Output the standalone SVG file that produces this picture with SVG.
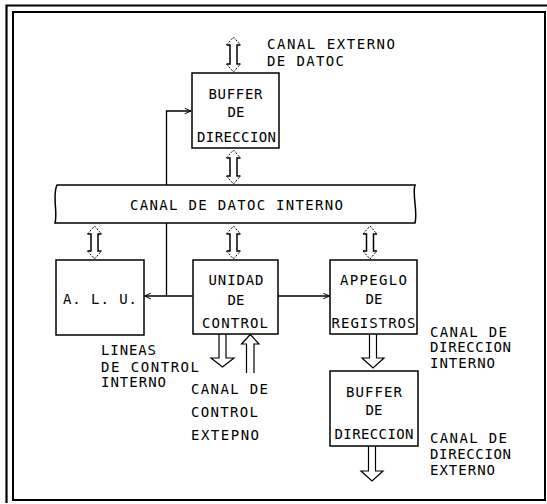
<svg xmlns="http://www.w3.org/2000/svg" width="547" height="504" viewBox="0 0 547 504">
<defs>
<style>
.box{fill:#fff;stroke:#000;stroke-width:1.5}
.ln{fill:none;stroke:#000;stroke-width:1.3}
.stem{fill:none;stroke:#000;stroke-width:1.5}
.head{fill:none;stroke:#000;stroke-width:1;stroke-dasharray:2 1.5}
.harr{fill:none;stroke:#000;stroke-width:1.2;stroke-linejoin:miter}
text{font-family:"DejaVu Sans Mono","Liberation Mono",monospace;font-size:14px;fill:#000}
.c{text-anchor:middle}
</style>
<marker id="ah" viewBox="0 0 10 10" refX="10" refY="5" markerWidth="7" markerHeight="7" orient="auto" markerUnits="userSpaceOnUse">
<path d="M1,1 L10,5 L1,9" fill="none" stroke="#000" stroke-width="1.4"/>
</marker>
</defs>
<rect width="547" height="504" fill="#fff"/>
<g id="frame" fill="none" stroke="#000">
<path d="M6.5,503 V5.5 H547" stroke-width="2.2"/>
<rect x="13" y="12" width="532" height="488" stroke-width="2"/>
</g>
<g id="connectors">
<path class="ln" d="M166.5,296 V111 H191" marker-end="url(#ah)"/>
<path class="ln" d="M192.5,296 H144.5" marker-end="url(#ah)"/>
<path class="ln" d="M278,296 H329.5" marker-end="url(#ah)"/>
<g id="arr-ext-datos">
<path class="stem" d="M226.5,45 H230 V64 H226.5 M240.5,45 H237 V64 H240.5"/>
<path class="head" d="M226.5,45 L233.5,37 L240.5,45 M226.5,64 L233.5,72 L240.5,64"/>
</g>
<g id="arr-buf-bus">
<path class="stem" d="M226.5,158 H230 V176 H226.5 M240.5,158 H237 V176 H240.5"/>
<path class="head" d="M226.5,158 L233.5,150 L240.5,158 M226.5,176 L233.5,184 L240.5,176"/>
</g>
<g id="arr-bus-alu">
<path class="stem" d="M87.5,234 H91 V251 H87.5 M101.5,234 H98 V251 H101.5"/>
<path class="head" d="M87.5,234 L94.5,226 L101.5,234 M87.5,251 L94.5,259 L101.5,251"/>
</g>
<g id="arr-bus-uc">
<path class="stem" d="M226.5,234 H230 V251 H226.5 M240.5,234 H237 V251 H240.5"/>
<path class="head" d="M226.5,234 L233.5,226 L240.5,234 M226.5,251 L233.5,259 L240.5,251"/>
</g>
<g id="arr-bus-reg">
<path class="stem" d="M363,234 H366.5 V251 H363 M377,234 H373.5 V251 H377"/>
<path class="head" d="M363,234 L370,226 L377,234 M363,251 L370,259 L377,251"/>
</g>
<path id="arr-uc-down" class="harr" d="M219,334 V358 H211 L222.5,367 L234,358 H226 V334"/>
<path id="arr-uc-up" class="harr" d="M246.5,373 V344 H241.5 L250.3,334.5 L259,344 H254 V373"/>
<path id="arr-reg-buf" class="harr" d="M369.5,334 V358 H362 L373,368 L384,358 H376.5 V334"/>
<path id="arr-buf-out" class="harr" d="M368.5,446 V471 H361 L372,481 L383,471 H375.5 V446"/>
</g>
<g id="bus">
<path class="box" d="M57,185 H415 C412,194 418,212 415,223 H55 C58,213 52,195 57,185 Z"/>
<text x="130" y="210" textLength="213" lengthAdjust="spacing">CANAL DE DATOC INTERNO</text>
</g>
<g id="buffer1">
<rect class="box" x="192" y="73" width="87" height="75"/>
<text x="235.5" y="99" class="c" textLength="54" lengthAdjust="spacing">BUFFER</text>
<text x="236" y="117" class="c">DE</text>
<text x="236.5" y="142" class="c" textLength="79" lengthAdjust="spacing">DIRECCION</text>
</g>
<g id="alu">
<rect class="box" x="56" y="260" width="88" height="75"/>
<text x="63" y="304" textLength="74" lengthAdjust="spacing">A. L. U.</text>
</g>
<g id="unidad">
<rect class="box" x="193" y="260" width="85" height="74"/>
<text x="236" y="285" class="c" textLength="55" lengthAdjust="spacing">UNIDAD</text>
<text x="236" y="305" class="c">DE</text>
<text x="235" y="328" class="c" textLength="66" lengthAdjust="spacing">CONTROL</text>
</g>
<g id="arreglo">
<rect class="box" x="330" y="260" width="87" height="74"/>
<text x="373.5" y="285" class="c" textLength="67" lengthAdjust="spacing">APPEGLO</text>
<text x="374" y="304" class="c">DE</text>
<text x="373.5" y="328" class="c" textLength="84" lengthAdjust="spacing">REGISTROS</text>
</g>
<g id="buffer2">
<rect class="box" x="330" y="371" width="88" height="75"/>
<text x="374" y="397" class="c" textLength="56" lengthAdjust="spacing">BUFFER</text>
<text x="374" y="415" class="c">DE</text>
<text x="374" y="439" class="c" textLength="79" lengthAdjust="spacing">DIRECCION</text>
</g>
<g id="labels">
<text x="267" y="49" textLength="128" lengthAdjust="spacing">CANAL EXTERNO</text>
<text x="267" y="66" textLength="77" lengthAdjust="spacing">DE DATOC</text>
<text x="101" y="355" textLength="55" lengthAdjust="spacing">LINEAS</text>
<text x="101" y="371.5" textLength="98" lengthAdjust="spacing">DE CONTROL</text>
<text x="101" y="387" textLength="65" lengthAdjust="spacing">INTERNO</text>
<text x="191" y="394" textLength="77" lengthAdjust="spacing">CANAL DE</text>
<text x="191" y="417" textLength="67" lengthAdjust="spacing">CONTROL</text>
<text x="191" y="440" textLength="68" lengthAdjust="spacing">EXTEPNO</text>
<text x="430" y="336.5" textLength="77" lengthAdjust="spacing">CANAL DE</text>
<text x="430" y="352" textLength="81" lengthAdjust="spacing">DIRECCION</text>
<text x="430" y="367.5" textLength="65" lengthAdjust="spacing">INTERNO</text>
<text x="430" y="442.5" textLength="77" lengthAdjust="spacing">CANAL DE</text>
<text x="430" y="458.5" textLength="81" lengthAdjust="spacing">DIRECCION</text>
<text x="430" y="475" textLength="65" lengthAdjust="spacing">EXTERNO</text>
</g>
</svg>
